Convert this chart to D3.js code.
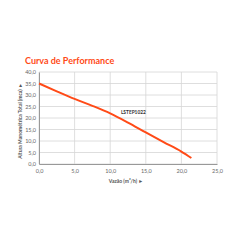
<!DOCTYPE html>
<html><head><meta charset="utf-8">
<script src="https://cdn.jsdelivr.net/npm/d3@7"></script>
<style>body{margin:0;background:#fff}svg{display:block}</style>
</head><body>
<script>
const flow = [0, 2.5, 5, 7.5, 10, 12.5, 15, 17.5, 20, 21.4];
const head = [35, 31.6, 28.3, 25.3, 22.0, 18.0, 13.7, 9.5, 5.4, 2.6];
const xTicks = [0, 5, 10, 15, 20, 25];
const yTicks = [0, 5, 10, 15, 20, 25, 30, 35, 40];
const title = "Curva de Performance";
const seriesLabel = "LSTEP1022";
const xLabel = "Vazão (m³/h) ►";
const yLabel = "Altura Manométrica Total (mca) ►";

const W = 240, H = 240;
const m = {l: 39, r: 23, t: 72, b: 76};
const svg = d3.select("body").append("svg").attr("width", W).attr("height", H);
const x = d3.scaleLinear().domain([0, 25]).range([m.l, W - m.r]);
const y = d3.scaleLinear().domain([0, 40]).range([H - m.b, m.t]);
const fmt = d => d.toFixed(1).replace(".", ",");
const font = "Lato, 'Open Sans', sans-serif";

svg.append("text").attr("x", 25).attr("y", 64).text(title)
  .attr("font-family", font).attr("font-weight", 700).attr("font-size", 9)
  .attr("fill", "#FF4A17");

// grid
svg.append("g").selectAll("line").data(yTicks).join("line")
  .attr("x1", x(0)).attr("x2", x(25)).attr("y1", d => y(d)).attr("y2", d => y(d))
  .attr("stroke", "#d6d6d6").attr("stroke-width", 0.8);
svg.append("g").selectAll("line").data(xTicks).join("line")
  .attr("y1", y(0)).attr("y2", y(40)).attr("x1", d => x(d)).attr("x2", d => x(d))
  .attr("stroke", "#d6d6d6").attr("stroke-width", 0.8);

// axes
const xa = svg.append("g").attr("transform", `translate(0,${y(0)})`)
  .call(d3.axisBottom(x).tickValues(xTicks).tickFormat(fmt).tickSize(0).tickPadding(5));
const ya = svg.append("g").attr("transform", `translate(${x(0)},0)`)
  .call(d3.axisLeft(y).tickValues(yTicks).tickFormat(fmt).tickSize(0).tickPadding(3));
[xa, ya].forEach(g => {
  g.select(".domain").attr("stroke", "#999").attr("stroke-width", 1);
  g.selectAll("text").attr("font-family", font).attr("font-size", 5.5).attr("fill", "#666");
});

// line
const line = d3.line().x((d, i) => x(flow[i])).y(d => y(d)).curve(d3.curveMonotoneX);
svg.append("path").datum(head).attr("d", line)
  .attr("fill", "none").attr("stroke", "#FF4A17").attr("stroke-width", 2);

svg.append("text").attr("x", x(11.5)).attr("y", y(21.6)).text(seriesLabel)
  .attr("font-family", font).attr("font-weight", 700).attr("font-size", 4.8).attr("fill", "#333");

svg.append("text").attr("x", 126).attr("y", 183).attr("text-anchor", "middle").text(xLabel)
  .attr("font-family", font).attr("font-weight", 700).attr("font-size", 5).attr("fill", "#555");
svg.append("text").attr("transform", `translate(22,${(y(0)+y(40))/2 + 3}) rotate(-90)`)
  .attr("text-anchor", "middle").text(yLabel)
  .attr("font-family", font).attr("font-weight", 700).attr("font-size", 5).attr("fill", "#555");
</script>
</body></html>
